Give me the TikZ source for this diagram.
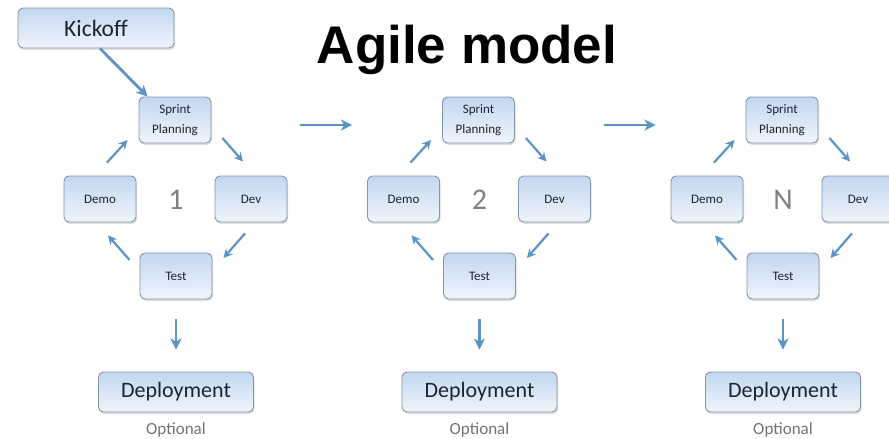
\documentclass[tikz,border=0pt]{standalone}
\usepackage{fontspec}
\setmainfont{Carlito}
\newfontfamily\titlefont{Liberation Sans}
\usetikzlibrary{arrows.meta,shadows,calc}
\definecolor{boxblue}{HTML}{C3D7F0}
\definecolor{boxlight}{HTML}{F0F5FC}
\definecolor{boxline}{HTML}{8195AB}
\definecolor{arr}{HTML}{5E93C8}
\definecolor{txt}{HTML}{1C2430}
\tikzset{
  box/.style={draw=boxline, line width=0.9pt, rounded corners=5pt,
    top color=boxblue, bottom color=boxlight,
    drop shadow={opacity=0.25, shadow xshift=1pt, shadow yshift=-2pt},
    text=txt, inner sep=0pt, align=center},
  small/.style={box, minimum width=72pt, minimum height=46pt,
    font=\fontsize{13}{20}\selectfont},
  big/.style={box, minimum width=156pt, minimum height=40pt,
    font=\fontsize{23.5}{26}\selectfont},
  cyc/.style={draw=arr, line width=2.2pt, -{Stealth[length=9pt,width=9pt,inset=3pt]}},
  flow/.style={draw=arr, line width=2.8pt, -{Stealth[length=11pt,width=11pt,inset=3pt]}},
  numtxt/.style={text=black!50, font=\fontsize{30}{32}\selectfont},
  opt/.style={text=black!55, font=\fontsize{17}{19}\selectfont}
}
\begin{document}
\begin{tikzpicture}[x=1pt,y=-1pt]
\useasboundingbox (0,0) rectangle (889,439);
\node[big] (kick) at (96,28) {Kickoff};
\node[font=\titlefont\bfseries\fontsize{53}{56}\selectfont] (title) at (467,50) {Agile model};
\foreach \i/\dx/\lab in {1/0/1,2/303.5/2,3/607/N}{
  \node[small] (sp\i) at (175+\dx,120) {Sprint\\Planning};
  \node[small] (demo\i) at (100+\dx,199) {Demo};
  \node[small] (dev\i) at (251+\dx,199) {Dev};
  \node[small] (test\i) at (176+\dx,276) {Test};
  \node[numtxt] (num\i) at (176+\dx,200) {\lab};
  \node[big, minimum width=155pt, font=\fontsize{22}{24}\selectfont] (dep\i) at (176+\dx,392) {Deployment};
  \node[opt] (opt\i) at (176+\dx,430) {Optional};
  \draw[cyc] ([shift={(7,-13)}]demo\i.north) -- ([shift={(-11,20)}]sp\i.west);
  \draw[cyc] ([shift={(11,18)}]sp\i.east) -- ([shift={(-8,-14)}]dev\i.north);
  \draw[cyc] ([shift={(-6,11)}]dev\i.south) -- ([shift={(11,-18)}]test\i.east);
  \draw[cyc] ([shift={(-10,-16)}]test\i.west) -- ([shift={(8,13)}]demo\i.south);
  \draw[flow] ([shift={(0,20)}]test\i.south) -- ([shift={(0,-22)}]dep\i.north);
}
\draw[flow] ([shift={(4,0)}]kick.south) -- ([shift={(9,0)}]sp1.north west);
\draw[flow] ([shift={(89,5)}]sp1.east) -- ([shift={(-90,5)}]sp2.west);
\draw[flow] ([shift={(89,5)}]sp2.east) -- ([shift={(-90,5)}]sp3.west);
\end{tikzpicture}
\end{document}
